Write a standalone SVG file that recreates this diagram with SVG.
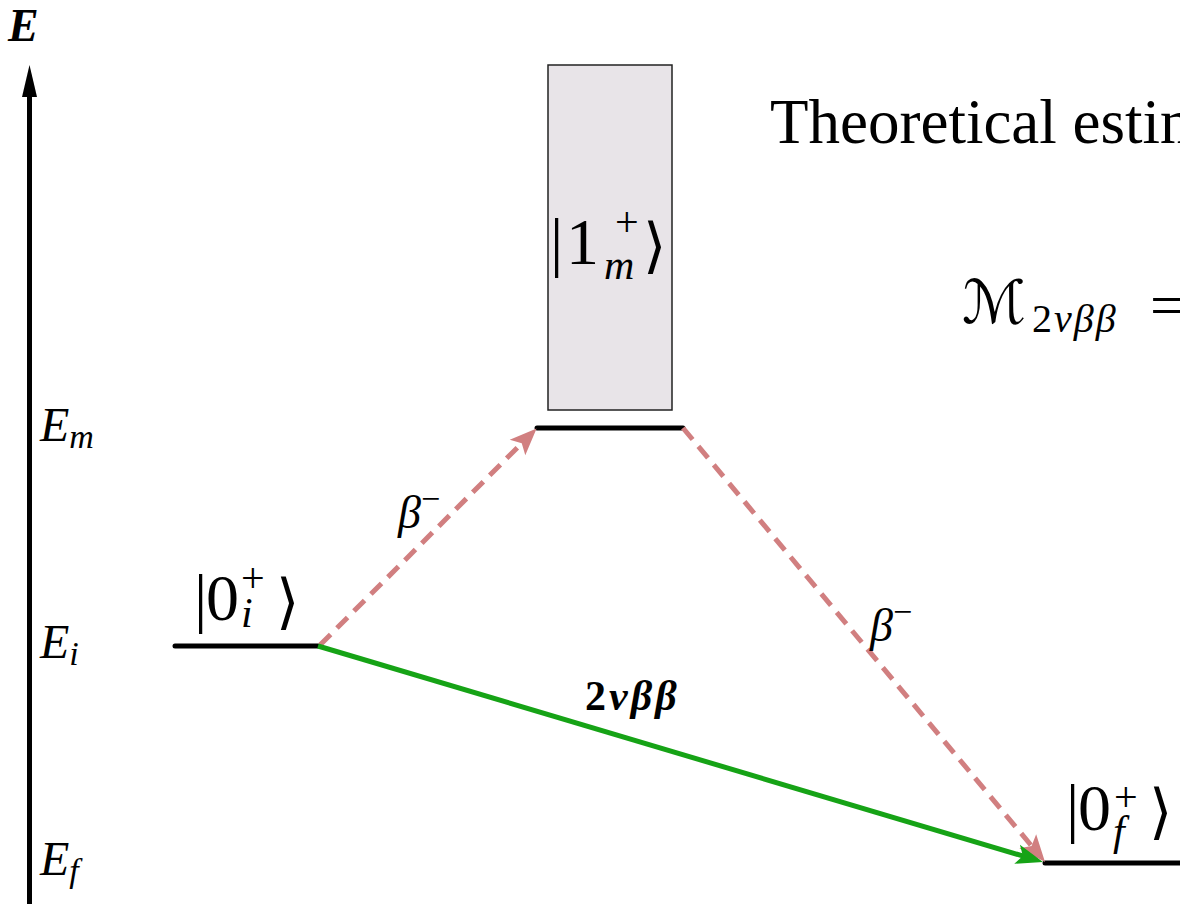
<svg xmlns="http://www.w3.org/2000/svg" width="1180" height="904" viewBox="0 0 1180 904">
  <defs>
    <style>
      .tx { font-family: "Liberation Serif", "DejaVu Serif", serif; fill: #000; }
      .it { font-style: italic; }
      .level { stroke: #000; stroke-width: 5; stroke-linecap: round; fill: none; }
      .beta { stroke: #d17f80; stroke-width: 5; stroke-dasharray: 15 9; fill: none; }
      .green { stroke: #16a316; stroke-width: 5; fill: none; }
      .ang { font-family: "DejaVu Serif", "DejaVu Sans", serif; }
      .cal { font-family: "DejaVu Serif", "DejaVu Sans", serif; }
    </style>
    <marker id="ahRed" markerUnits="userSpaceOnUse" orient="auto" refX="0" refY="0" markerWidth="40" markerHeight="40" overflow="visible">
      <path d="M15,0 L-12,-11 L-6,0 L-12,11 z" fill="#d17f80"/>
    </marker>
    <marker id="ahGreen" markerUnits="userSpaceOnUse" orient="auto" refX="0" refY="0" markerWidth="40" markerHeight="40" overflow="visible">
      <path d="M15,0 L-12,-10 L-6,0 L-12,10 z" fill="#16a316"/>
    </marker>
  </defs>
  <rect width="1180" height="904" fill="#fff"/>

  <g id="axis">
    <line x1="29.5" y1="90" x2="29.5" y2="904" stroke="#000" stroke-width="5"/>
    <polygon points="29.5,65 22,97 37,97" fill="#000"/>
    <text class="tx" x="8" y="41" font-size="46" font-weight="bold" font-style="italic">E</text>
  </g>

  <g id="energy-labels">
    <text class="tx it" x="40" y="441" font-size="48">E<tspan font-size="34" dy="7">m</tspan></text>
    <text class="tx it" x="40" y="658" font-size="48">E<tspan font-size="34" dy="7">i</tspan></text>
    <text class="tx it" x="40" y="875" font-size="48">E<tspan font-size="34" dy="7">f</tspan></text>
  </g>

  <g id="title">
    <text class="tx" x="770" y="143" font-size="63">Theoretical estim</text>
  </g>

  <g id="formula">
    <text class="tx" x="962" y="323" font-size="60"><tspan class="cal">ℳ</tspan><tspan x="1032" y="332" font-size="40" letter-spacing="2">2</tspan><tspan font-size="40" font-style="italic" letter-spacing="2">νββ</tspan><tspan x="1150" y="326" font-size="62">=</tspan></text>
  </g>

  <g id="state-m">
    <rect x="548" y="65" width="124" height="345" fill="#e8e4e8" stroke="#222" stroke-width="1.5"/>
    <text class="tx" x="550" y="264" font-size="66">|<tspan x="566">1</tspan><tspan x="615" y="236" font-size="42">+</tspan><tspan x="604" y="279" font-size="42" font-style="italic">m</tspan><tspan class="ang" x="643" y="266" font-size="60">⟩</tspan></text>
    <line class="level" x1="537" y1="428" x2="683" y2="428"/>
  </g>

  <g id="state-i">
    <line class="level" x1="175" y1="646" x2="318" y2="646"/>
    <text class="tx" x="194" y="620" font-size="66">|<tspan x="206">0</tspan><tspan x="241" y="592" font-size="42">+</tspan><tspan x="241" y="627" font-size="42" font-style="italic">i</tspan><tspan class="ang" x="276" y="622" font-size="60">⟩</tspan></text>
  </g>

  <g id="state-f">
    <line class="level" x1="1045" y1="863" x2="1185" y2="863"/>
    <text class="tx" x="1066" y="830" font-size="66">|<tspan x="1078">0</tspan><tspan x="1114" y="811" font-size="42">+</tspan><tspan x="1113" y="845" font-size="42" font-style="italic">f</tspan><tspan class="ang" x="1149" y="832" font-size="60">⟩</tspan></text>
  </g>

  <g id="connectors">
    <path class="beta" d="M320,645 L526,439" marker-end="url(#ahRed)"/>
    <path class="beta" d="M683,428 L1035.4,850.5" marker-end="url(#ahRed)"/>
    <path class="green" d="M318,646 L1028.6,857.7" marker-end="url(#ahGreen)"/>
  </g>

  <g id="connector-labels">
    <text class="tx it" x="398" y="528" font-size="46">β<tspan font-style="normal" font-size="34" dy="-18">−</tspan></text>
    <text class="tx it" x="870" y="641" font-size="46">β<tspan font-style="normal" font-size="34" dy="-18">−</tspan></text>
    <text class="tx" x="585" y="710" font-size="42" font-weight="bold" letter-spacing="3">2<tspan font-style="italic">νββ</tspan></text>
  </g>
</svg>
